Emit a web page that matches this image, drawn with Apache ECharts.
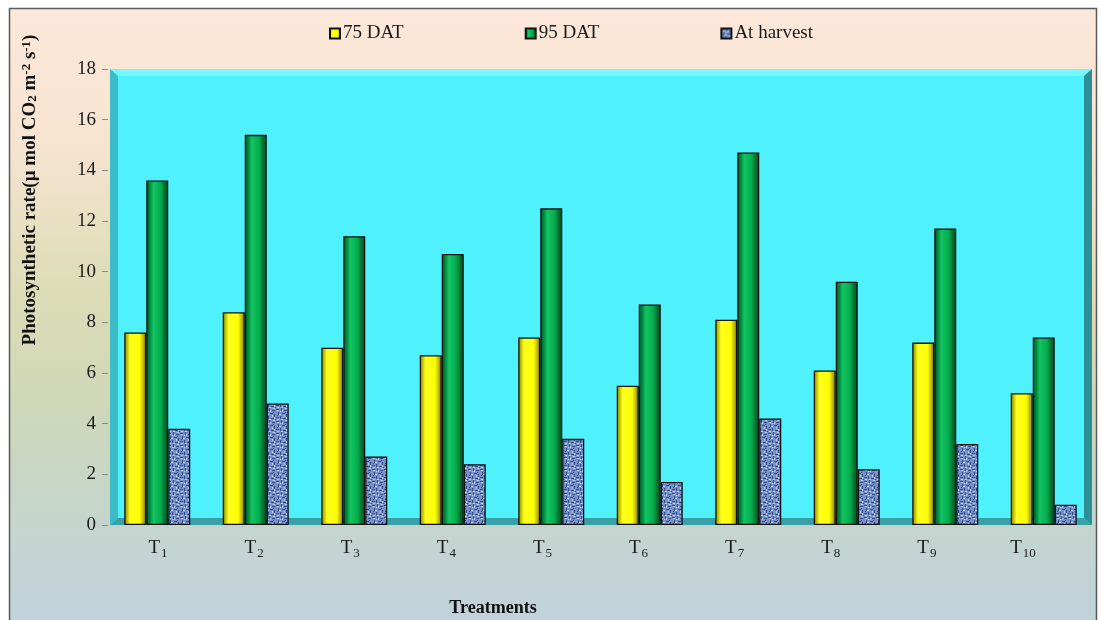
<!DOCTYPE html>
<html>
<head>
<meta charset="utf-8">
<script src="https://cdn.jsdelivr.net/npm/echarts@6/dist/echarts.min.js"></script>
<style>
  html, body { margin: 0; padding: 0; background: #fff; }
  #chart { width: 1101px; height: 620px; }
</style>
</head>
<body>
<div id="chart"></div>
<script>
// Treatments and photosynthetic rate (µmol CO2 m-2 s-1) at three stages
const categories = ['T1', 'T2', 'T3', 'T4', 'T5', 'T6', 'T7', 'T8', 'T9', 'T10'];
const dat75   = [7.6, 8.4, 7.0, 6.7, 7.4, 5.5, 8.1, 6.1, 7.2, 5.2];
const dat95   = [13.6, 15.4, 11.4, 10.7, 12.5, 8.7, 14.7, 9.6, 11.7, 7.4];
const harvest = [3.8, 4.8, 2.7, 2.4, 3.4, 1.7, 4.2, 2.2, 3.2, 0.8];
const seriesNames = ['75 DAT', '95 DAT', 'At harvest'];
const yTicks = { min: 0, max: 18, interval: 2 };

const FONT = '"Liberation Serif", "Times New Roman", serif';

// Speckled blue fill for the harvest bars
function makeTexture() {
  const c = document.createElement('canvas');
  c.width = 12; c.height = 12;
  const g = c.getContext('2d');
  g.fillStyle = '#7890c8';
  g.fillRect(0, 0, 12, 12);
  g.fillStyle = '#2f4a88';
  [[0,1,3,1],[5,0,1,3],[8,2,3,1],[2,4,1,3],[6,5,3,1],[10,6,1,3],[0,9,3,1],[4,8,1,3],[7,10,3,1],[11,11,1,1],[9,4,1,1],[1,7,1,1]]
    .forEach(r => g.fillRect(r[0], r[1], r[2], r[3]));
  g.fillStyle = '#bccfef';
  [[1,2,2,1],[9,0,2,1],[3,6,2,1],[8,7,1,2],[1,11,2,1],[6,2,1,2],[10,9,1,2],[5,11,2,1],[4,3,1,1]]
    .forEach(r => g.fillRect(r[0], r[1], r[2], r[3]));
  return c;
}

function hGrad(stops) {
  return new echarts.graphic.LinearGradient(0, 0, 1, 0,
    stops.map(s => ({ offset: s[0], color: s[1] })));
}

const yellowFill = hGrad([[0,'#8f8a00'],[0.14,'#c9c400'],[0.26,'#ffff20'],[0.7,'#ffff00'],[0.84,'#c8c200'],[1,'#7e7800']]);
const greenFill  = hGrad([[0,'#005a26'],[0.16,'#00883c'],[0.32,'#14c463'],[0.65,'#02ad4d'],[0.82,'#007533'],[1,'#004f21']]);
const texFill = { image: makeTexture(), repeat: 'repeat' };

// Plot box geometry (pixels)
const G = { left: 108, right: 8, top: 69, bottom: 95 };
const W = 1101, H = 620;
const boxL = G.left + 2, boxR = W - G.right - 1, boxT = G.top, boxB = H - G.bottom;

const chart = echarts.init(document.getElementById('chart'), null, { renderer: 'canvas' });

const barBase = {
  type: 'bar',
  xAxisIndex: 0,
  yAxisIndex: 0,
  barWidth: 22,
  barGap: '0%',
  itemStyle: { borderColor: '#111', borderWidth: 1.3 },
  emphasis: { disabled: true }
};

const option = {
  backgroundColor: '#ffffff',
  animation: false,
  legend: {
    data: seriesNames,
    left: 324,
    top: 19,
    itemWidth: 10,
    itemHeight: 10,
    itemGap: 121,
    icon: 'rect',
    textStyle: { fontFamily: FONT, fontSize: 19, color: '#1a1a1a', padding: [0, 0, 0, -2] }
  },
  graphic: [
    // Chart area background with frame
    {
      type: 'rect', z: -20, silent: true,
      shape: { x: 9.5, y: 8.5, width: 1087, height: 630 },
      style: {
        fill: new echarts.graphic.LinearGradient(0, 0, 0, 1, [
          { offset: 0, color: '#fde7da' },
          { offset: 0.22, color: '#f6e4d0' },
          { offset: 0.45, color: '#dcdcb7' },
          { offset: 0.62, color: '#d0d8b8' },
          { offset: 0.8, color: '#c5d5cc' },
          { offset: 1, color: '#c0d1dd' }
        ]),
        stroke: '#5a5a5a', lineWidth: 1.5
      }
    },
    // Back wall
    { type: 'rect', z: -10, silent: true,
      shape: { x: boxL, y: boxT, width: boxR - boxL, height: boxB - boxT },
      style: { fill: '#4ff1fd' } },
    // Top bevel
    { type: 'polygon', z: -9, silent: true,
      shape: { points: [[boxL, boxT], [boxR, boxT], [boxR - 8, boxT + 7], [boxL + 8, boxT + 7]] },
      style: { fill: '#78f6fe' } },
    // Left wall
    { type: 'polygon', z: -9, silent: true,
      shape: { points: [[boxL, boxT], [boxL + 8, boxT + 7], [boxL + 8, boxB - 7], [boxL, boxB]] },
      style: { fill: '#3bbcc6' } },
    // Right wall
    { type: 'polygon', z: -9, silent: true,
      shape: { points: [[boxR, boxT], [boxR, boxB], [boxR - 8, boxB - 7], [boxR - 8, boxT + 7]] },
      style: { fill: '#2c8f96' } },
    // Floor
    { type: 'polygon', z: -9, silent: true,
      shape: { points: [[boxL, boxB], [boxL + 8, boxB - 7], [boxR - 8, boxB - 7], [boxR, boxB]] },
      style: { fill: '#39a0a7' } },
    // Y axis title
    {
      type: 'text', z: 20, silent: true,
      x: 30, y: 190, rotation: Math.PI / 2,
      style: {
        text: 'Photosynthetic rate(µ mol CO{sub|2} m{sup|-2} s{sup|-1})',
        align: 'center', verticalAlign: 'middle',
        font: 'bold 19px ' + FONT, fill: '#111',
        rich: {
          sub: { font: 'bold 13px ' + FONT, fill: '#111', lineHeight: 13, verticalAlign: 'bottom' },
          sup: { font: 'bold 13px ' + FONT, fill: '#111', lineHeight: 13, verticalAlign: 'top' }
        }
      }
    },
    // X axis title
    {
      type: 'text', z: 20, silent: true,
      x: 493, y: 608,
      style: { text: 'Treatments', align: 'center', verticalAlign: 'middle',
               font: 'bold 18px ' + FONT, fill: '#111' }
    }
  ],
  grid: [
    { left: G.left, right: G.right, top: G.top, bottom: G.bottom },
    // label row (projected front edge of the floor)
    { left: 110, right: 30, top: G.top, bottom: G.bottom }
  ],
  xAxis: [
    {
      type: 'category', gridIndex: 0, data: categories,
      axisLine: { show: false }, axisTick: { show: false }, axisLabel: { show: false }
    },
    {
      type: 'category', gridIndex: 1, data: categories,
      axisLine: { show: false }, axisTick: { show: false },
      axisLabel: {
        margin: 11,
        formatter: v => '{t|T}{s|' + v.slice(1) + '}',
        rich: {
          t: { fontFamily: FONT, fontSize: 19, color: '#1a1a1a', lineHeight: 24, verticalAlign: 'middle' },
          s: { fontFamily: FONT, fontSize: 13, color: '#1a1a1a', lineHeight: 12, verticalAlign: 'bottom', padding: [0, 0, 0, 1] }
        }
      }
    }
  ],
  yAxis: [
    {
      type: 'value', gridIndex: 0,
      min: yTicks.min, max: yTicks.max, interval: yTicks.interval,
      splitLine: { show: false },
      axisLine: { show: false },
      axisTick: { show: true, length: 6, lineStyle: { color: '#8a8a8a', width: 1 } },
      axisLabel: { margin: 12, fontFamily: FONT, fontSize: 19, color: '#1a1a1a' }
    },
    {
      type: 'value', gridIndex: 1, min: yTicks.min, max: yTicks.max, interval: yTicks.interval, show: false
    }
  ],
  series: [
    Object.assign({}, barBase, { name: seriesNames[0], data: dat75,
      itemStyle: Object.assign({}, barBase.itemStyle, { color: yellowFill }) }),
    Object.assign({}, barBase, { name: seriesNames[1], data: dat95,
      itemStyle: Object.assign({}, barBase.itemStyle, { color: greenFill }) }),
    Object.assign({}, barBase, { name: seriesNames[2], data: harvest,
      itemStyle: Object.assign({}, barBase.itemStyle, { color: texFill }) })
  ]
};

chart.setOption(option);
</script>
</body>
</html>
